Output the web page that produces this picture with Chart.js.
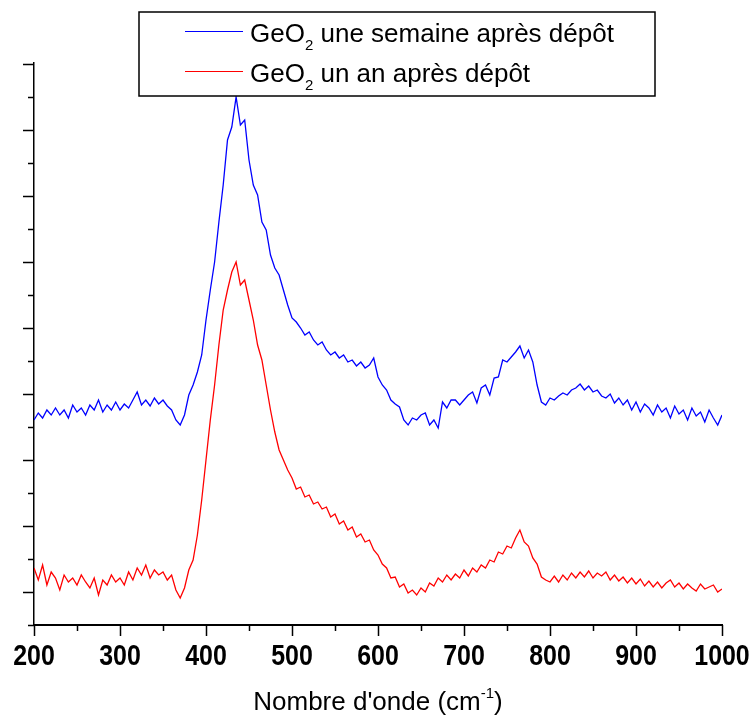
<!DOCTYPE html>
<html>
<head>
<meta charset="utf-8">
<title>GeO2 - spectres</title>
<script src="https://cdn.jsdelivr.net/npm/chart.js@4"></script>
<style>
  html, body { margin: 0; padding: 0; background: #fff; }
  #chart { display: block; }
</style>
</head>
<body>
<canvas id="chart" width="755" height="720"></canvas>
<script>
// wavenumber grid (cm-1): one reading every 5 cm-1 from 200 to 1000
const waveStart = 200;
const waveStep = 5;

// intensities (arbitrary units, y axis has no labels)
const weekAfter = [
  172,179,174,182,177,184,177,182,174,187,
  180,184,177,187,182,192,180,187,182,190,
  182,188,184,192,200,187,192,186,194,188,
  192,186,182,172,167,177,197,207,220,237,
  272,302,330,370,407,452,465,495,467,472,
  432,407,397,370,362,337,324,317,302,287,
  274,270,264,257,260,252,247,250,242,237,
  240,234,237,230,232,226,230,224,227,234,
  215,207,202,192,188,185,172,167,174,172,
  177,179,167,172,164,190,184,192,192,187,
  192,197,200,189,204,207,197,214,215,232,
  230,235,240,246,234,242,230,207,190,187,
  194,192,196,199,197,202,204,208,202,206,
  200,202,196,194,198,189,194,187,192,182,
  190,180,188,184,177,187,180,184,174,186,
  178,182,172,184,176,180,170,182,174,167,
  177
];
const yearAfter = [
  24,12,27,7,20,14,2,17,10,14,
  7,17,10,4,14,-3,12,7,17,10,
  14,7,20,12,24,17,27,14,22,17,
  20,12,17,2,-6,4,22,32,57,92,
  132,172,207,247,282,302,320,330,307,312,
  292,272,247,232,207,182,160,142,132,122,
  114,103,105,95,97,88,90,83,85,75,
  78,68,71,62,65,55,58,50,52,42,
  37,28,24,14,15,5,8,-1,2,-3,
  4,0,9,6,14,10,17,12,18,14,
  22,16,24,20,27,24,32,30,40,38,
  46,44,54,62,50,46,34,28,15,12,
  10,16,10,17,12,19,14,20,15,21,
  14,19,16,20,12,17,11,15,9,14,
  8,13,6,11,5,10,4,9,12,5,
  9,3,8,4,1,8,3,5,7,0,
  3
];

const seriesNames = ['GeO\u2082 une semaine apr\u00e8s d\u00e9p\u00f4t', 'GeO\u2082 un an apr\u00e8s d\u00e9p\u00f4t'];
const seriesColors = ['#0000ff', '#ff0000'];

// axes
const xMin = 200, xMax = 1000;
const xTicks = [200, 300, 400, 500, 600, 700, 800, 900, 1000];
const xMinorTicks = [250, 350, 450, 550, 650, 750, 850, 950];
const yMin = -33, yMax = 529;
const yTicks = [0, 66, 132, 198, 264, 330, 396, 462, 528];
const yMinorTicks = [-33, 33, 99, 165, 231, 297, 363, 429, 495];
const xTitle = ["Nombre d'onde (cm", '-1', ')'];

const FONT = '"Liberation Sans", Arial, Helvetica, sans-serif';

function toPoints(values) {
  return values.map((v, i) => ({ x: waveStart + i * waveStep, y: v }));
}

// tick marks, tick labels, legend box and axis title
const decorations = {
  id: 'decorations',
  afterDraw(chart) {
    const { ctx, chartArea: area, scales: { x, y } } = chart;
    ctx.save();
    ctx.strokeStyle = '#000';
    ctx.lineWidth = 1.5;
    ctx.beginPath();
    const tickX = (v, len) => {
      const px = Math.round(x.getPixelForValue(v)) + 0.5;
      ctx.moveTo(px, area.bottom); ctx.lineTo(px, area.bottom + len);
    };
    const tickY = (v, len) => {
      const py = Math.round(y.getPixelForValue(v)) + 0.5;
      ctx.moveTo(area.left - len, py); ctx.lineTo(area.left, py);
    };
    xTicks.forEach(v => tickX(v, 11));
    xMinorTicks.forEach(v => tickX(v, 6));
    yTicks.forEach(v => tickY(v, 11));
    yMinorTicks.forEach(v => tickY(v, 6));
    // axis line runs a little past the y axis, like the original
    ctx.moveTo(area.left - 6, area.bottom + 0.5); ctx.lineTo(area.left, area.bottom + 0.5);
    ctx.stroke();

    // bold, slightly condensed tick labels
    ctx.fillStyle = '#000';
    ctx.textBaseline = 'alphabetic';
    ctx.textAlign = 'center';
    ctx.font = 'bold 29px ' + FONT;
    xTicks.forEach(v => {
      ctx.save();
      ctx.translate(x.getPixelForValue(v), 665);
      ctx.scale(0.86, 1);
      ctx.fillText(String(v), 0, 0);
      ctx.restore();
    });

    // x axis title with superscript
    const mainFont = '26px ' + FONT, supFont = '15px ' + FONT;
    ctx.textAlign = 'left';
    ctx.font = mainFont;
    const w0 = ctx.measureText(xTitle[0]).width, w2 = ctx.measureText(xTitle[2]).width;
    ctx.font = supFont;
    const w1 = ctx.measureText(xTitle[1]).width;
    let tx = (area.left + area.right) / 2 - (w0 + w1 + w2) / 2;
    const ty = 710;
    ctx.font = mainFont; ctx.fillText(xTitle[0], tx, ty); tx += w0;
    ctx.font = supFont; ctx.fillText(xTitle[1], tx, ty - 12); tx += w1;
    ctx.font = mainFont; ctx.fillText(xTitle[2], tx, ty);

    // legend
    ctx.fillStyle = '#fff';
    ctx.fillRect(139, 12, 516, 84);
    ctx.lineWidth = 1.5;
    ctx.strokeRect(139, 12, 516, 84);
    seriesNames.forEach((name, i) => {
      const base = 42 + i * 40;
      ctx.strokeStyle = seriesColors[i];
      ctx.lineWidth = 1.2;
      ctx.beginPath();
      ctx.moveTo(185, base - 10.5); ctx.lineTo(243, base - 10.5);
      ctx.stroke();
      const [head, tail] = name.split('\u2082');
      let lx = 250;
      ctx.fillStyle = '#000';
      ctx.font = mainFont; ctx.fillText(head, lx, base); lx += ctx.measureText(head).width;
      ctx.font = supFont; ctx.fillText('2', lx, base + 8); lx += ctx.measureText('2').width;
      ctx.font = mainFont; ctx.fillText(tail, lx, base);
    });
    ctx.restore();
  }
};

new Chart(document.getElementById('chart'), {
  type: 'line',
  data: {
    datasets: [
      { label: seriesNames[0], data: toPoints(weekAfter), borderColor: seriesColors[0], borderWidth: 1.3 },
      { label: seriesNames[1], data: toPoints(yearAfter), borderColor: seriesColors[1], borderWidth: 1.3 }
    ]
  },
  options: {
    responsive: false,
    devicePixelRatio: 1,
    animation: false,
    layout: { padding: { top: 63, right: 33, left: 0, bottom: 0 } },
    elements: { point: { radius: 0 }, line: { tension: 0 } },
    plugins: { legend: { display: false }, tooltip: { enabled: false } },
    scales: {
      x: {
        type: 'linear', min: xMin, max: xMax,
        grid: { display: false },
        border: { display: true, color: '#000', width: 2 },
        ticks: { display: false, stepSize: 100 },
        afterFit: s => { s.height = 95; s.paddingLeft = 0; s.paddingRight = 0; }
      },
      y: {
        min: yMin, max: yMax,
        grid: { display: false },
        border: { display: true, color: '#000', width: 1.5 },
        ticks: { display: false },
        afterFit: s => { s.width = 34; }
      }
    }
  },
  plugins: [decorations]
});
</script>
</body>
</html>
